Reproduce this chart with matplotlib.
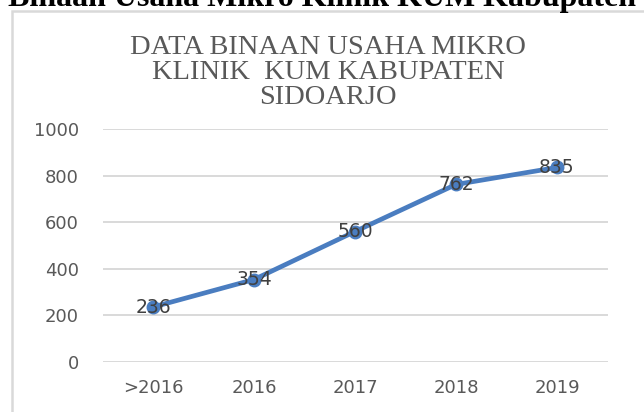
import matplotlib
matplotlib.use("Agg")
import matplotlib.pyplot as plt
from matplotlib.patches import Rectangle

categories = [">2016", "2016", "2017", "2018", "2019"]
values = [236, 354, 560, 762, 835]
yticks = [0, 200, 400, 600, 800, 1000]
title = "DATA BINAAN USAHA MIKRO\nKLINIK  KUM KABUPATEN\nSIDOARJO"
caption = "Binaan Usaha Mikro Klinik KUM Kabupaten Sidoarjo"

W, H = 644, 412
fig = plt.figure(figsize=(W / 100, H / 100), dpi=100)
fig.patch.set_facecolor("white")

# chart frame
fig.patches.append(Rectangle((12 / W, -0.1), (W + 20) / W, (H - 11) / H + 0.1,
                             transform=fig.transFigure, fill=False,
                             edgecolor="#d9d9d9", linewidth=1.8))

# cut caption at top
fig.text(-2 / W, 1 - 6 / H, "Data", ha="right", va="baseline",
         fontfamily="Liberation Serif", fontweight="bold", fontsize=23, color="black")
fig.text(8 / W, 1 - 6 / H, caption, ha="left", va="baseline",
         fontfamily="Liberation Serif", fontweight="bold", fontsize=23, color="black")

left, right = 102.5, 607.5
top, bottom = 129, 362
ax = fig.add_axes([left / W, 1 - bottom / H, (right - left) / W, (bottom - top) / H])
x = list(range(len(categories)))
ax.plot(x, values, color="#4a7dc0", linewidth=3.4, marker="o", markersize=9,
        solid_capstyle="round", zorder=3)
for xi, v in zip(x, values):
    ax.text(xi, v, str(v), ha="center", va="center", fontsize=13.5,
            fontfamily="DejaVu Sans", color="#404040", zorder=4)

ax.set_xlim(-0.5, len(categories) - 0.5)
ax.set_ylim(0, 1000)
ax.set_yticks(yticks)
ax.set_xticks(x)
ax.set_xticklabels(categories)
ax.grid(axis="y", color="#d9d9d9", linewidth=1.4)
ax.set_axisbelow(True)
for s in ax.spines.values():
    s.set_visible(False)
ax.tick_params(length=0, labelsize=13, labelcolor="#595959")
ax.tick_params(axis="y", pad=17)
ax.tick_params(axis="x", pad=12)
for lab in ax.get_xticklabels() + ax.get_yticklabels():
    lab.set_fontfamily("DejaVu Sans")

fig.text(328 / W, 1 - 35 / H, title, ha="center", va="top", fontsize=20.5,
         fontfamily="Liberation Serif", color="#595959", linespacing=1.0)

fig.savefig("out.png", dpi=100)
